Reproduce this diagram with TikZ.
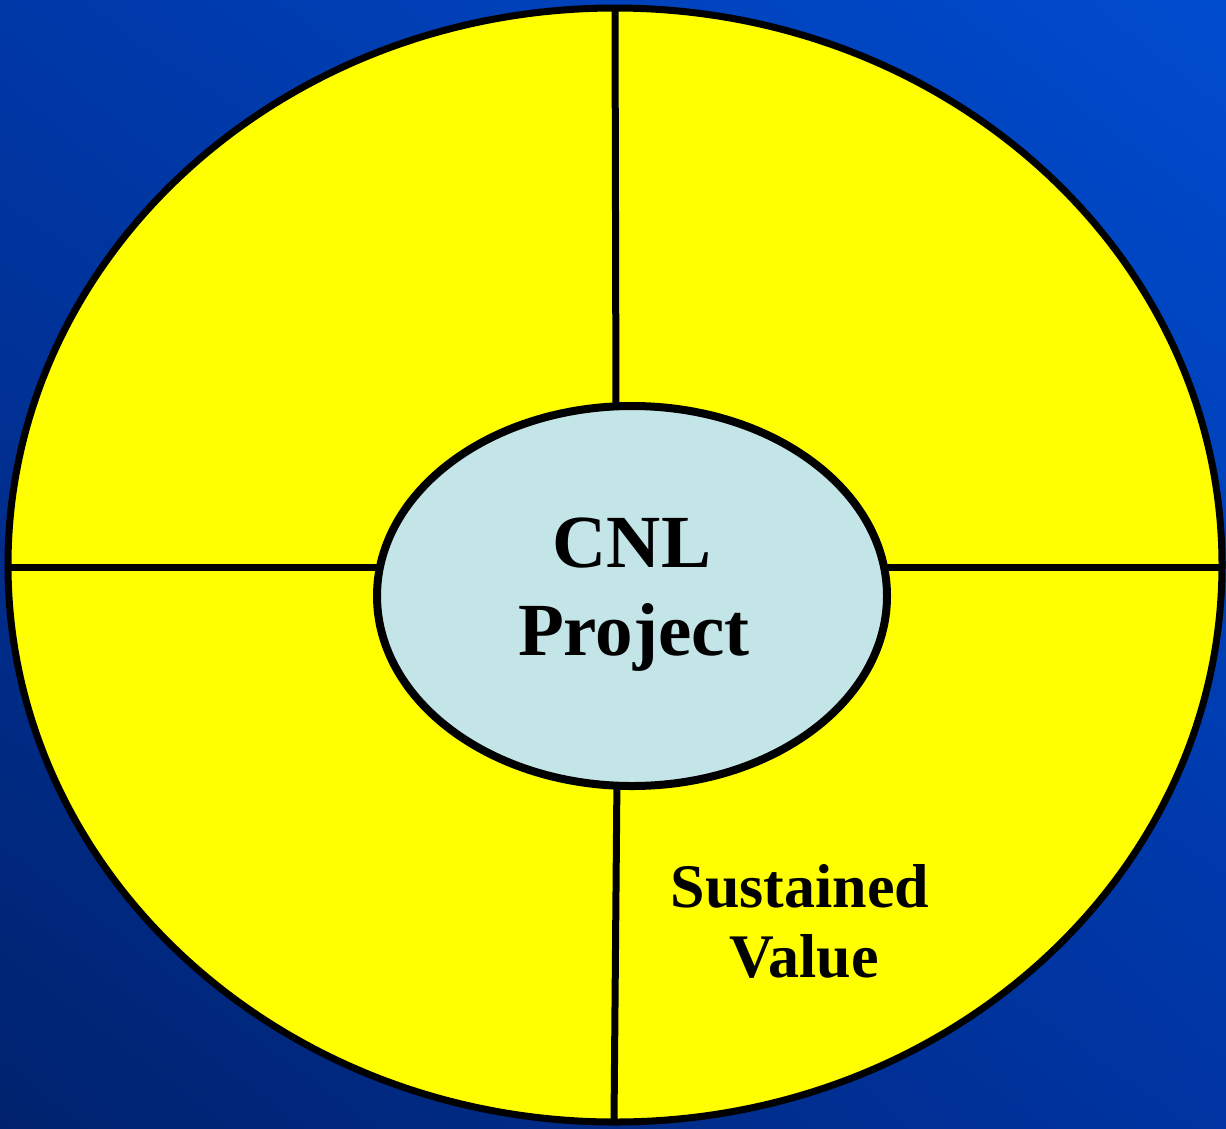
\documentclass[tikz,border=0pt]{standalone}
\usepackage{fontspec}
\setmainfont{Liberation Serif}
\usetikzlibrary{shadings}
\definecolor{bgTL}{HTML}{0038A8}
\definecolor{bgTR}{HTML}{004CCF}
\definecolor{bgBL}{HTML}{00226E}
\definecolor{bgBR}{HTML}{0034A2}
\definecolor{sunny}{HTML}{FFFF00}
\definecolor{paleblue}{HTML}{C4E5E8}
\tikzset{
  divider/.style={draw=black, line width=7pt},
  bigtext/.style={anchor=base, inner sep=0pt, font=\bfseries\fontsize{75}{88}\selectfont},
  smalltext/.style={anchor=base, inner sep=0pt, font=\bfseries\fontsize{62}{70}\selectfont},
}
\begin{document}
\begin{tikzpicture}[x=1pt, y=-1pt]
\useasboundingbox (0,0) rectangle (1226,1128);
\shade[upper left=bgTL, upper right=bgTR, lower left=bgBL, lower right=bgBR] (0,0) rectangle (1226,1128);
% outer ellipse
\draw[fill=sunny, line width=7pt] (615,565) ellipse [x radius=607pt, y radius=557pt];
% named end points
\coordinate (topend) at (615,8);
\coordinate (topin) at (616,420);
\coordinate (leftend) at (8,567);
\coordinate (leftin) at (390,567);
\coordinate (rightend) at (1222,567);
\coordinate (rightin) at (875,567);
\coordinate (botin) at (617,775);
\coordinate (botend) at (614,1122);
\draw[divider] (topend) -- (topin);
\draw[divider] (leftend) -- (leftin);
\draw[divider] (rightin) -- (rightend);
\draw[divider] (botin) -- (botend);
% inner ellipse
\draw[fill=paleblue, line width=8pt] (632,596) ellipse [x radius=255pt, y radius=190pt];
\node[bigtext] (cnl) at (632,567) {CNL};
\node[bigtext] (project) at (634,655) {Project};
\node[smalltext] (sustained) at (800,907) {Sustained};
\node[smalltext] (value) at (804,977) {Value};
\end{tikzpicture}
\end{document}
